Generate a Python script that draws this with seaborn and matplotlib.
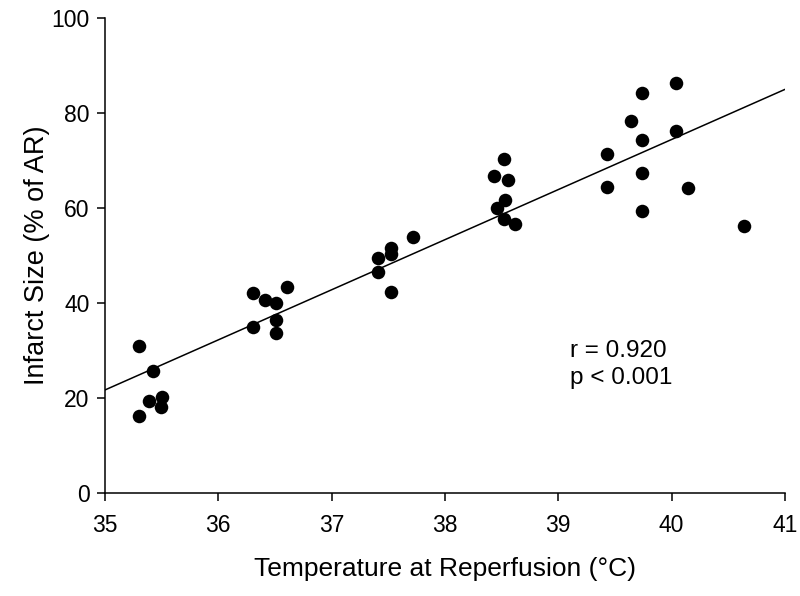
import matplotlib
matplotlib.use("Agg")
import matplotlib.pyplot as plt
import numpy as np
import pandas as pd
import seaborn as sns

# temperature at reperfusion (deg C) and infarct size (% of AR)
temp = [35.30, 35.42, 35.39, 35.50, 35.49, 35.30,
        36.31, 36.41, 36.51, 36.61, 36.31, 36.51, 36.51,
        37.41, 37.52, 37.52, 37.72, 37.41, 37.52,
        38.52, 38.43, 38.56, 38.53, 38.46, 38.52, 38.62,
        39.74, 40.04, 39.64, 40.04, 39.74, 39.43, 39.74, 39.43, 40.14, 39.74, 40.64]
infarct = [31.0, 25.6, 19.4, 20.1, 18.1, 16.1,
           42.0, 40.7, 40.0, 43.4, 34.9, 36.4, 33.6,
           49.4, 51.5, 50.3, 53.8, 46.6, 42.3,
           70.4, 66.7, 66.0, 61.7, 60.0, 57.7, 56.7,
           84.3, 86.3, 78.3, 76.3, 74.3, 71.4, 67.4, 64.4, 64.3, 59.3, 56.2]
x_ticks = [35, 36, 37, 38, 39, 40, 41]
y_ticks = [0, 20, 40, 60, 80, 100]
stats_text = "r = 0.920\np < 0.001"

df = pd.DataFrame({"temp": temp, "infarct": infarct})

sns.set_style("ticks", {"text.color": "black", "axes.labelcolor": "black",
                        "xtick.color": "black", "ytick.color": "black"})
plt.rcParams["font.family"] = ["Liberation Sans", "DejaVu Sans"]

fig = plt.figure(figsize=(8, 5.96), dpi=100)
ax = fig.add_axes([0.13125, 0.1733, 0.85, 0.796])

ax.set_xlim(35, 41)
ax.set_ylim(0, 100)
sns.regplot(data=df, x="temp", y="infarct", ax=ax, ci=None, truncate=False,
            scatter_kws={"s": 95, "color": "black", "alpha": 1, "linewidths": 0},
            line_kws={"color": "black", "lw": 1.1})
ax.set_xlim(35, 41)
ax.set_ylim(0, 100)

ax.set_xticks(x_ticks)
ax.set_yticks(y_ticks)
ax.tick_params(axis="both", labelsize=16.5, direction="out", length=6, width=1.1,
               color="black", labelcolor="black")
ax.tick_params(axis="x", pad=9)
ax.tick_params(axis="y", pad=5)
ax.set_xlabel("Temperature at Reperfusion (°C)", fontsize=19, labelpad=14.5, color="black")
ax.set_ylabel("Infarct Size (% of AR)", fontsize=19.5, labelpad=1, color="black")
for s in ["left", "bottom"]:
    ax.spines[s].set_linewidth(1.1)
    ax.spines[s].set_color("black")
sns.despine(ax=ax)

ax.text(39.1, 27.0, stats_text, fontsize=17.5, va="center", ha="left",
        linespacing=1.25, color="black")

fig.savefig("out.png", dpi=100)
